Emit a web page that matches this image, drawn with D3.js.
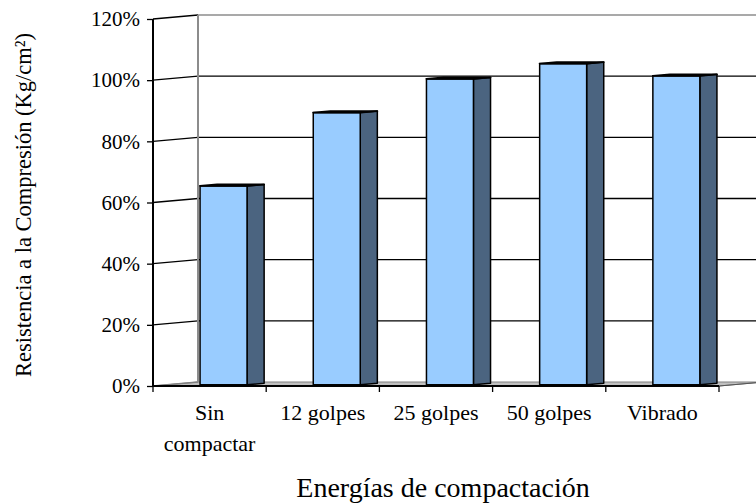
<!DOCTYPE html>
<html>
<head>
<meta charset="utf-8">
<script src="https://cdn.jsdelivr.net/npm/d3@7"></script>
<style>
  html, body { margin: 0; padding: 0; background: #fff; }
  svg { display: block; }
  svg text { font-family: "Liberation Serif", "Times New Roman", "DejaVu Serif", serif; }
</style>
</head>
<body>
<svg id="chart" width="756" height="504"></svg>
<script>
// Compression strength relative to reference, per compaction energy
const categories = ["Sin compactar", "12 golpes", "25 golpes", "50 golpes", "Vibrado"];
const values = [0.65, 0.89, 1.00, 1.05, 1.01];
const yTicks = [0, 0.2, 0.4, 0.6, 0.8, 1.0, 1.2];
const xTitle = "Energías de compactación";
const yTitle = "Resistencia a la Compresión (Kg/cm²)";

const FONT = "'Liberation Serif', 'Times New Roman', 'DejaVu Serif', serif";
const svg = d3.select("#chart");

// front plane of the 3-D box
const x0 = 153, x1 = 719;
const DX = 45, DY = -4;          // depth offset of the back wall
const f0 = 0.31, f1 = 0.69;      // bar depth span inside the box

const x = d3.scaleBand().domain(categories).range([x0, x1])
  .paddingInner(0.585).paddingOuter(0.2925);
const y = d3.scaleLinear().domain([0, 1.2]).range([386, 19]);

// floor
svg.append("polygon")
  .attr("points", [[x0, y(0)], [x1, y(0)], [x1 + DX, y(0) + DY], [x0 + DX, y(0) + DY]].join(" "))
  .attr("fill", "#c0c0c0").attr("stroke", "#808080").attr("stroke-width", 1);

// back wall gridlines
svg.append("g").selectAll("line").data(yTicks.filter(t => t > 0)).join("line")
  .attr("x1", x0 + DX).attr("x2", x1 + DX + 10)
  .attr("y1", d => y(d) + DY).attr("y2", d => y(d) + DY)
  .attr("stroke", d => d === 1.2 ? "#8c8c8c" : "#000")
  .attr("stroke-width", 1.3);

// side wall gridlines
svg.append("g").selectAll("line").data(yTicks).join("line")
  .attr("x1", x0).attr("x2", x0 + DX)
  .attr("y1", d => y(d)).attr("y2", d => y(d) + DY)
  .attr("stroke", d => d === 0 ? "#808080" : "#000")
  .attr("stroke-width", 1.3);

// back wall left edge
svg.append("line")
  .attr("x1", x0 + DX).attr("x2", x0 + DX)
  .attr("y1", y(1.2) + DY).attr("y2", y(0) + DY)
  .attr("stroke", "#8c8c8c").attr("stroke-width", 2);

// bars: side, front and top faces
const bw = x.bandwidth();
const ddx = DX * (f1 - f0), ddy = DY * (f1 - f0);
const bars = svg.append("g").selectAll("g").data(categories.map((c, i) => ({ c, v: values[i] }))).join("g");
bars.each(function (d) {
  const g = d3.select(this);
  const xf = x(d.c) + DX * f0;
  const yb = y(0) + DY * f0;
  const yt = y(d.v) + DY * f0;
  g.append("polygon")
    .attr("points", [[xf + bw, yt], [xf + bw + ddx, yt + ddy], [xf + bw + ddx, yb + ddy], [xf + bw, yb]].join(" "))
    .attr("fill", "#4b6480").attr("stroke", "#000").attr("stroke-width", 1.5).attr("stroke-linejoin", "round");
  g.append("rect")
    .attr("x", xf).attr("y", yt).attr("width", bw).attr("height", yb - yt)
    .attr("fill", "#99ccff").attr("stroke", "#000").attr("stroke-width", 1.5);
  g.append("polygon")
    .attr("points", [[xf, yt], [xf + bw, yt], [xf + bw + ddx, yt + ddy], [xf + ddx, yt + ddy]].join(" "))
    .attr("fill", "#99ccff").attr("stroke", "#000").attr("stroke-width", 1.8).attr("stroke-linejoin", "round");
});

// x axis (front floor edge)
svg.append("line")
  .attr("x1", x0).attr("x2", x1).attr("y1", y(0)).attr("y2", y(0))
  .attr("stroke", "#000").attr("stroke-width", 2);
svg.append("line")
  .attr("x1", x1).attr("x2", x1 + DX).attr("y1", y(0)).attr("y2", y(0) + DY)
  .attr("stroke", "#555").attr("stroke-width", 1);

// category tick marks at band boundaries
const step = x.step();
svg.append("g").selectAll("line").data(d3.range(categories.length + 1)).join("line")
  .attr("x1", i => x0 + i * step).attr("x2", i => x0 + i * step)
  .attr("y1", y(0)).attr("y2", y(0) + 6)
  .attr("stroke", "#000").attr("stroke-width", 1.3);

// category labels, wrapped when wider than a band
const catLabels = svg.append("g").attr("text-anchor", "middle");
categories.forEach((c, i) => {
  const center = x0 + (i + 0.5) * step;
  const t = catLabels.append("text")
    .attr("font-family", FONT).attr("font-size", 22).attr("fill", "#000")
    .attr("x", center).attr("y", 420).text(c);
  if (t.node().getComputedTextLength() > step - 6) {
    const words = c.split(" ");
    t.text(null);
    words.forEach((w, k) => {
      t.append("tspan").attr("x", center).attr("y", 420 + k * 31).text(w);
    });
  }
});

// y axis
const yAxis = d3.axisLeft(y).tickValues(yTicks).tickSize(6).tickPadding(7)
  .tickFormat(d3.format(".0%"));
const gy = svg.append("g").attr("transform", `translate(${x0},0)`).call(yAxis)
  .attr("font-family", FONT).attr("font-size", 21);
gy.select(".domain").attr("stroke", "#000").attr("stroke-width", 2).attr("d", `M0,${y(1.2)}V${y(0)}`);
gy.selectAll(".tick line").attr("stroke", "#000").attr("stroke-width", 1.3);
gy.selectAll(".tick text").attr("font-family", FONT).attr("font-size", 21).attr("fill", "#000");

// axis titles
svg.append("text")
  .attr("x", 443).attr("y", 497)
  .attr("font-family", FONT)
  .attr("text-anchor", "middle").attr("font-size", 28).attr("fill", "#000")
  .text(xTitle);
svg.append("text")
  .attr("transform", "translate(31,205) rotate(-90)")
  .attr("font-family", FONT)
  .attr("text-anchor", "middle").attr("font-size", 22.5).attr("fill", "#000")
  .text(yTitle);
</script>
</body>
</html>
